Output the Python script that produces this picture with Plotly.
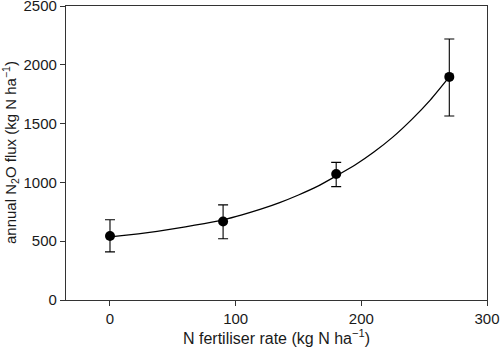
import plotly.graph_objects as go

# Measured data (mean ± error)
fert_rate = [0, 90, 180, 270]
n2o_flux = [544, 668, 1071, 1897]
err_plus = [138, 141, 99, 323]
err_minus = [135, 147, 107, 333]

# Fitted curve, values
curve_x = [0, 15, 30, 45, 60, 75, 90, 105, 120, 135, 150, 165, 180, 195, 210, 225, 240, 255, 270]
curve_y = [536, 553, 573, 596, 622, 650, 682, 724, 772, 828, 893, 966, 1055, 1148, 1258, 1385, 1534, 1702, 1897]

x_ticks = [0, 100, 200, 300]
y_ticks = [0, 500, 1000, 1500, 2000, 2500]

fig = go.Figure()
fig.add_trace(go.Scatter(
    x=curve_x, y=curve_y, mode="lines", line=dict(color="black", width=1.3, shape="spline", smoothing=0.6),
    showlegend=False, hoverinfo="skip"))
fig.add_trace(go.Scatter(
    x=fert_rate, y=n2o_flux, mode="markers",
    marker=dict(color="black", size=10),
    error_y=dict(type="data", symmetric=False, array=err_plus, arrayminus=err_minus,
                 color="black", thickness=1.1, width=5),
    showlegend=False))

axis_font = dict(family="Liberation Sans, Arial, sans-serif", size=15, color="#1a1a1a")
fig.update_layout(
    width=500, height=355,
    margin=dict(l=66, r=13, t=6, b=55),
    plot_bgcolor="white", paper_bgcolor="white",
    font=axis_font,
    xaxis=dict(range=[-35, 300], tickvals=x_ticks, showgrid=False, zeroline=False,
               showline=True, mirror=True, linecolor="#333", linewidth=1.3,
               ticks="outside", ticklen=5, tickcolor="#333", tickwidth=1.2,
               automargin=False, tickfont=dict(size=15), ticklabeloverflow="allow",
               title=dict(text="N fertiliser rate (kg N ha<sup>−1</sup>)", standoff=6,
                          font=dict(size=16))),
    yaxis=dict(range=[0, 2500], tickvals=y_ticks, showgrid=False, zeroline=False,
               showline=True, mirror=True, linecolor="#333", linewidth=1.3,
               ticks="outside", ticklen=5, tickcolor="#333", tickwidth=1.2,
               automargin=False, tickfont=dict(size=15), ticklabeloverflow="allow"),
    annotations=[dict(text="annual N<sub>2</sub>O flux (kg N ha<sup>−1</sup>)",
                      xref="paper", yref="paper", x=0, y=0.5, xanchor="center", yanchor="middle",
                      xshift=-56, textangle=-90, showarrow=False, font=dict(size=15))],
)
fig.write_html("out.html", config={"displayModeBar": False},
               post_script="document.body.style.margin='0';document.body.style.padding='0';")
